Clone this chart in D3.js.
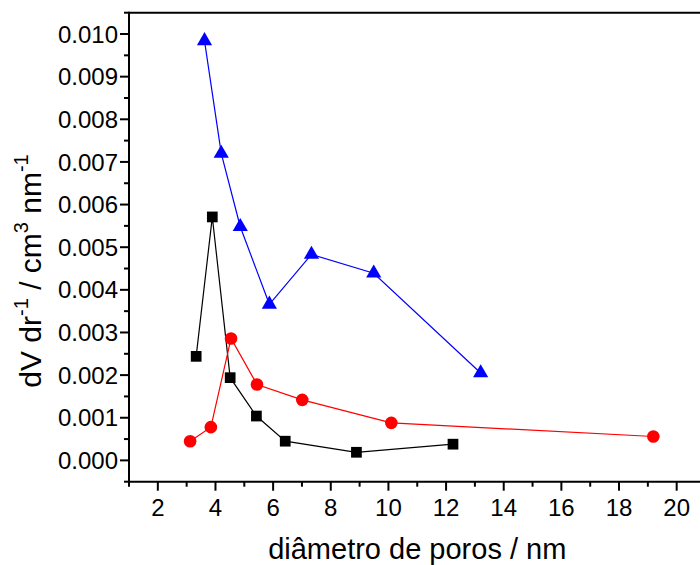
<!DOCTYPE html>
<html>
<head>
<meta charset="utf-8">
<script src="https://cdn.jsdelivr.net/npm/d3@7"></script>
<style>
  html, body { margin: 0; padding: 0; background: #fff; }
  svg { display: block; }
  text { font-family: "Liberation Sans", Arial, sans-serif; fill: #000; }
</style>
</head>
<body>
<svg id="chart" width="700" height="565"></svg>
<script>
// ---- data ----
const blackX = [3.33, 3.89, 4.51, 5.42, 6.42, 8.89, 12.24];
const blackY = [0.00244, 0.00571, 0.00194, 0.00104, 0.00045, 0.00019, 0.00038];
const redX = [3.12, 3.84, 4.54, 5.44, 7.01, 10.10, 19.19];
const redY = [0.00045, 0.00078, 0.00286, 0.00178, 0.00142, 0.00088, 0.00056];
const blueX = [3.62, 4.20, 4.86, 5.87, 7.33, 9.49, 13.20];
const blueY = [0.00984, 0.00720, 0.00548, 0.00366, 0.00483, 0.00439, 0.00205];
const xTicks = [2, 4, 6, 8, 10, 12, 14, 16, 18, 20];
const yTicks = [0, 0.001, 0.002, 0.003, 0.004, 0.005, 0.006, 0.007, 0.008, 0.009, 0.010];
const xLabel = "diâmetro de poros / nm";

(function () {
const svg = d3.select("#chart");
const pL = 129, pR = 705.5, pT = 12.7, pB = 481.7;
const x = d3.scaleLinear().domain([1, 21]).range([pL, pR]);
const y = d3.scaleLinear().domain([-0.0005, 0.0105]).range([pB, pT]);

const fs = 24;

const g = svg.append("g");
const xMinor = d3.range(1, 21, 2);
g.selectAll(".xminor").data(xMinor).join("line")
  .attr("x1", d => x(d)).attr("x2", d => x(d))
  .attr("y1", pB).attr("y2", pB + 5)
  .attr("stroke", "#000").attr("stroke-width", 2);
g.selectAll(".xmajor").data(xTicks).join("line")
  .attr("x1", d => x(d)).attr("x2", d => x(d))
  .attr("y1", pB).attr("y2", pB + 9)
  .attr("stroke", "#000").attr("stroke-width", 2);
g.selectAll(".xlab").data(xTicks).join("text")
  .attr("x", d => x(d)).attr("y", pB + 34)
  .attr("text-anchor", "middle").attr("font-size", fs)
  .text(d => d);

const yMinor = d3.range(-0.0005, 0.0106, 0.001);
g.selectAll(".yminor").data(yMinor).join("line")
  .attr("x1", pL - 5).attr("x2", pL)
  .attr("y1", d => y(d)).attr("y2", d => y(d))
  .attr("stroke", "#000").attr("stroke-width", 2);
g.selectAll(".ymajor").data(yTicks).join("line")
  .attr("x1", pL - 9).attr("x2", pL)
  .attr("y1", d => y(d)).attr("y2", d => y(d))
  .attr("stroke", "#000").attr("stroke-width", 2);
g.selectAll(".ylab").data(yTicks).join("text")
  .attr("x", pL - 11).attr("y", d => y(d))
  .attr("dy", "0.36em")
  .attr("text-anchor", "end").attr("font-size", fs)
  .text(d => d3.format(".3f")(d));

g.append("line").attr("x1", pL).attr("x2", pR).attr("y1", pB).attr("y2", pB)
  .attr("stroke", "#000").attr("stroke-width", 2);
g.append("line").attr("x1", pL).attr("x2", pR).attr("y1", pT).attr("y2", pT)
  .attr("stroke", "#000").attr("stroke-width", 2);
g.append("line").attr("x1", pL).attr("x2", pL).attr("y1", pT - 1).attr("y2", pB + 1)
  .attr("stroke", "#000").attr("stroke-width", 2);
g.append("line").attr("x1", pR).attr("x2", pR).attr("y1", pT - 1).attr("y2", pB + 1)
  .attr("stroke", "#000").attr("stroke-width", 2);

function series(xs, ys, color, shape) {
  const pts = xs.map((v, i) => [v, ys[i]]);
  const line = d3.line().x(d => x(d[0])).y(d => y(d[1]));
  svg.append("path").attr("d", line(pts)).attr("fill", "none")
    .attr("stroke", color).attr("stroke-width", 1.2);
  const sym = d3.symbol().type(shape.type).size(shape.size);
  svg.append("g").selectAll("path").data(pts).join("path")
    .attr("d", sym)
    .attr("transform", d => `translate(${x(d[0])},${y(d[1])})`)
    .attr("fill", color);
}
series(blackX, blackY, "#000000", {type: d3.symbolSquare, size: 115});
series(redX, redY, "#ff0000", {type: d3.symbolCircle, size: 125});
series(blueX, blueY, "#0000ff", {type: d3.symbolTriangle, size: 100});

svg.append("text")
  .attr("x", (pL + pR) / 2).attr("y", 559)
  .attr("text-anchor", "middle").attr("font-size", 29)
  .text(xLabel);

const yl = svg.append("text")
  .attr("transform", `translate(41, 271) rotate(-90)`)
  .attr("text-anchor", "middle").attr("font-size", 30);
yl.append("tspan").text("dV dr");
yl.append("tspan").attr("font-size", 20).attr("dy", -13).text("-1");
yl.append("tspan").attr("dy", 13).text(" / cm");
yl.append("tspan").attr("font-size", 20).attr("dy", -13).text("3");
yl.append("tspan").attr("dy", 13).text(" nm");
yl.append("tspan").attr("font-size", 20).attr("dy", -13).text("-1");
})();
</script>
</body>
</html>
